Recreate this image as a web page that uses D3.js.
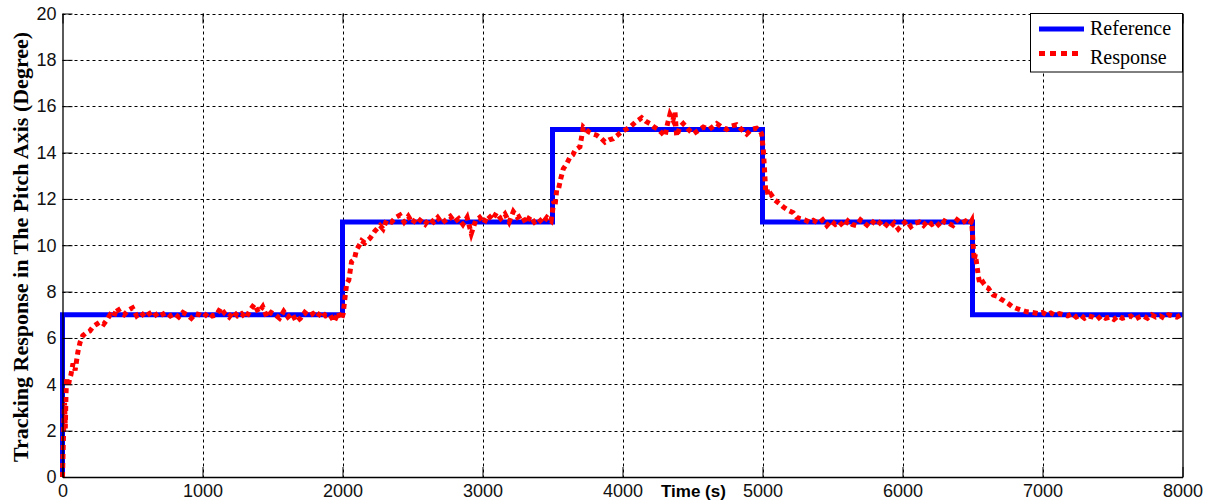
<!DOCTYPE html>
<html lang="en">
<head>
  <meta charset="UTF-8">
  <title>Pitch axis tracking</title>
  <script src="https://cdn.jsdelivr.net/npm/d3@7"></script>
  <style>
    body { margin: 0; background: #fff; }
    .tick text { font-family: Arial, "Liberation Sans", sans-serif; font-size: 18px; fill: #111; }
  </style>
</head>
<body>
  <script>
    // reference step signal
    var refTime  = [0, 0, 2000, 2000, 3500, 3500, 5000, 5000, 6500, 6500, 8000];
    var refValue = [0, 7, 7, 11, 11, 15, 15, 11, 11, 7, 7];

    var resp1Time = [
      0, 5, 10, 15, 20, 25, 30, 40, 50, 60, 75, 90, 110, 125, 145, 165, 195, 220, 245, 270, 295, 320, 340, 365, 390, 410, 440, 470,
      500, 530, 560, 590, 620, 650, 680, 710, 740, 770, 800, 830, 860, 890, 920, 950, 980, 1010, 1040, 1070, 1100, 1130, 1160, 1190,
      1220, 1250, 1280, 1310, 1340, 1370, 1400, 1430, 1460, 1490, 1520, 1550, 1580, 1610, 1640, 1670, 1700, 1730, 1760, 1790, 1820,
      1850, 1880, 1910, 1940, 1970, 1990
    ];
    var resp1Value = [
      0, 1.3, 2.4, 3.2, 2.1, 3.6, 4.3, 3.9, 4.2, 4.4, 4.9, 4.6, 5.4, 5.8, 6.1, 6.2, 6.3, 6.5, 6.6, 6.7, 6.6, 6.8, 7.0, 6.9, 7.3, 7.1, 7.0, 7.2,
      7.3, 6.95, 7.1, 6.9, 7.05, 7.15, 6.9, 7.0, 7.1, 6.95, 7.05, 6.9, 7.1, 7.0, 6.85, 7.05, 7.0, 6.9, 7.1, 6.95, 7.0, 7.3, 7.05, 6.9,
      7.15, 6.95, 7.05, 6.85, 7.2, 7.45, 7.1, 7.35, 6.9, 7.1, 7.0, 6.85, 7.15, 6.9, 7.05, 6.7, 6.85, 7.1, 6.95, 7.05, 6.9,
      7.15, 6.95, 7.0, 6.7, 7.1, 6.8
    ];

    var resp2Time = [
      2005, 2015, 2030, 2045, 2065, 2085, 2100, 2120, 2137, 2160, 2196, 2230, 2268, 2290, 2315, 2350, 2380,
      2410, 2440, 2470, 2500, 2530, 2560, 2590, 2620, 2650, 2680, 2710, 2740, 2770, 2800, 2830, 2860, 2890, 2920, 2950, 2980,
      3010, 3040, 3070, 3100, 3130, 3160, 3190, 3220, 3250, 3280, 3310, 3340, 3370, 3400, 3430, 3460, 3490
    ];
    var resp2Value = [
      7.05, 7.6, 8.35, 8.5, 9.3, 9.4, 9.8, 10.0, 10.2, 10.1, 10.3, 10.6, 10.85, 10.7, 11.08, 11.0, 11.2,
      11.3, 11.0, 11.25, 10.95, 11.2, 11.05, 10.9, 11.15, 11.0, 11.2, 10.95, 11.1, 11.25, 11.0, 11.15, 10.9, 11.2, 10.5, 11.05, 11.2,
      10.95, 11.3, 11.1, 11.4, 11.15, 11.35, 11.0, 11.45, 11.2, 11.3, 10.95, 11.25, 11.0, 11.15, 10.95, 11.2, 11.05
    ];

    var resp3Time = [
      3510, 3518, 3530, 3542, 3560, 3577, 3600, 3625, 3645, 3661, 3696, 3720, 3756, 3790, 3816, 3850, 3875, 3905, 3934, 3965, 3994, 4025,
      4054, 4090, 4115, 4137, 4165, 4196, 4225, 4256, 4280, 4304, 4320, 4339, 4360, 4375, 4387, 4410, 4434, 4470, 4505, 4540, 4577, 4620,
      4673, 4710, 4744, 4780, 4815, 4850, 4887, 4920, 4958, 4985, 4994
    ];
    var resp3Value = [
      11.9, 11.7, 12.4, 12.4, 12.9, 13.3, 13.5, 13.8, 13.9, 14.1, 14.25, 15.1, 14.9, 14.8, 14.75, 14.6, 14.45, 14.55, 14.6, 14.75, 14.9, 15.0,
      15.1, 15.3, 15.4, 15.5, 15.35, 15.25, 15.1, 15.0, 14.85, 14.7, 15.2, 15.65, 15.4, 15.75, 14.7, 15.1, 15.25, 15.0, 14.8, 14.95, 15.1, 15.0,
      15.25, 15.1, 15.0, 15.15, 15.2, 15.0, 14.8, 15.0, 15.05, 14.9, 14.8
    ];

    var resp4Time = [
      5006, 5015, 5022, 5030, 5041, 5060, 5089, 5120, 5149, 5185, 5220, 5245, 5268, 5300, 5335, 5363,
      5400, 5430, 5460, 5490, 5520, 5550, 5580, 5610, 5640, 5670, 5700, 5730, 5760, 5790, 5820, 5850, 5880, 5910, 5940, 5970,
      6000, 6030, 6060, 6090, 6120, 6150, 6180, 6210, 6240, 6270, 6300, 6330, 6360, 6390, 6420, 6450, 6480, 6494
    ];
    var resp4Value = [
      14.1, 13.2, 12.4, 12.5, 12.1, 12.2, 11.95, 11.8, 11.65, 11.5, 11.4, 11.2, 11.15, 11.1, 11.0, 11.08,
      10.95, 11.1, 10.85, 11.05, 10.9, 11.0, 10.8, 11.05, 10.9, 10.85, 11.1, 10.95, 10.8, 11.0, 10.85, 11.05, 10.9, 10.75, 10.95, 10.7,
      10.9, 11.05, 10.8, 10.95, 11.0, 10.85, 11.05, 10.9, 11.0, 10.8, 11.05, 10.95, 10.85, 11.1, 10.95, 11.05, 10.9, 11.05
    ];

    var resp5Time = [
      6506, 6512, 6520, 6530, 6542, 6554, 6575, 6595, 6613, 6630, 6649, 6675, 6697, 6725, 6756, 6785, 6816, 6850, 6887, 6930,
      6970, 7000, 7030, 7060, 7090, 7120, 7150, 7180, 7210, 7240, 7270, 7300, 7330, 7360, 7390, 7420, 7450, 7480, 7510, 7540,
      7570, 7600, 7630, 7660, 7690, 7720, 7750, 7780, 7810, 7840, 7870, 7900, 7930, 7960, 7990, 8000
    ];
    var resp5Value = [
      9.9, 9.35, 9.6, 9.2, 8.65, 8.3, 8.4, 8.2, 8.15, 8.0, 7.85, 7.8, 7.7, 7.6, 7.48, 7.35, 7.27, 7.2, 7.13, 7.1,
      7.05, 7.1, 7.0, 7.08, 6.98, 7.05, 7.0, 6.95, 7.05, 6.9, 7.0, 6.85, 6.95, 6.9, 6.8, 6.95, 6.85, 6.9, 6.8, 6.95,
      6.85, 6.9, 6.95, 6.8, 6.9, 6.95, 6.85, 7.0, 6.9, 6.95, 6.85, 7.0, 6.95, 6.9, 7.0, 6.95
    ];

    var xTicks = [0, 1000, 2000, 3000, 4000, 5000, 6000, 7000, 8000];
    var yTicks = [0, 2, 4, 6, 8, 10, 12, 14, 16, 18, 20];
    var seriesNames = ["Reference", "Response"];

    var respTime = resp1Time.concat(resp2Time, resp3Time, resp4Time, resp5Time);
    var respValue = resp1Value.concat(resp2Value, resp3Value, resp4Value, resp5Value);

    var refData = refTime.map((t, i) => ({t: t, v: refValue[i]}));
    var respData = respTime.map((t, i) => ({t: t, v: respValue[i]}));

    var svg = d3.select("body").append("svg")
      .attr("width", 1208)
      .attr("height", 501);

    // plot box (note: "top" is a reserved window property, so prefixed names)
    var pLeft = 62.5, pRight = 1182.5, pTop = 13.5, pBottom = 477;

    let scaleX = d3.scaleLinear().domain([0, 8000]).range([pLeft, pRight]);
    let scaleY = d3.scaleLinear().domain([0, 20]).range([pBottom, pTop]);

    /* GRID */
    var grid = svg.append("g")
      .attr("stroke", "#000")
      .attr("stroke-width", 1)
      .attr("stroke-dasharray", "3,3");

    grid.selectAll("line.vx")
      .data(xTicks.filter(d => d > 0 && d < 8000))
      .enter().append("line")
      .attr("x1", d => Math.round(scaleX(d)) + 0.5)
      .attr("x2", d => Math.round(scaleX(d)) + 0.5)
      .attr("y1", pTop)
      .attr("y2", pBottom);

    grid.selectAll("line.hy")
      .data(yTicks.filter(d => d > 0))
      .enter().append("line")
      .attr("x1", pLeft)
      .attr("x2", pRight)
      .attr("y1", d => Math.round(scaleY(d)) + 0.5)
      .attr("y2", d => Math.round(scaleY(d)) + 0.5);

    /* LINES */
    let line = d3.line()
      .x(d => scaleX(d.t))
      .y(d => scaleY(d.v));

    svg.append("path")
      .datum(refData)
      .attr("d", line)
      .attr("fill", "none")
      .attr("stroke", "#0000ff")
      .attr("stroke-width", 5)
      .attr("stroke-linejoin", "miter");

    svg.append("path")
      .datum(respData)
      .attr("d", line)
      .attr("fill", "none")
      .attr("stroke", "#ff0000")
      .attr("stroke-width", 5)
      .attr("stroke-dasharray", "5,4");

    /* AXES */
    let axisX = d3.axisBottom(scaleX).tickValues(xTicks).tickFormat(d3.format("d"))
      .tickSize(-10).tickSizeOuter(0).tickPadding(7);
    svg.append("g").attr("transform", `translate(0,${pBottom})`).call(axisX);

    let axisY = d3.axisLeft(scaleY).tickValues(yTicks).tickFormat(d3.format("d"))
      .tickSize(-10).tickSizeOuter(0).tickPadding(6);
    svg.append("g").attr("transform", `translate(${pLeft},0)`).call(axisY);

    let axisR = d3.axisRight(scaleY).tickValues(yTicks).tickFormat("")
      .tickSize(-10).tickSizeOuter(0);
    svg.append("g").attr("transform", `translate(${pRight},0)`).call(axisR);

    let axisT = d3.axisTop(scaleX).tickValues(xTicks).tickFormat("")
      .tickSize(-10).tickSizeOuter(0);
    svg.append("g").attr("transform", `translate(0,${pTop})`).call(axisT)
      .select(".domain").remove();

    svg.selectAll(".domain").attr("stroke", "#000").attr("stroke-width", 1.3);
    svg.selectAll(".tick line").attr("stroke", "#000");

    // axis labels
    svg.append("text")
      .attr("x", 661)
      .attr("y", 497)
      .attr("font-family", "Arial, 'Liberation Sans', sans-serif")
      .attr("font-weight", "bold")
      .attr("font-size", 17)
      .text("Time (s)");

    svg.append("text")
      .attr("transform", "translate(28,247) rotate(-90)")
      .attr("text-anchor", "middle")
      .attr("font-family", "'Times New Roman', 'Liberation Serif', serif")
      .attr("font-weight", "bold")
      .attr("font-size", 22)
      .text("Tracking Response in The Pitch Axis (Degree)");

    /* LEGEND */
    var legend = svg.append("g");
    legend.append("rect")
      .attr("x", 1030.5).attr("y", pTop)
      .attr("width", pRight - 1030.5).attr("height", 58.5)
      .attr("fill", "#fff").attr("stroke", "#000").attr("stroke-width", 1);

    legend.append("line")
      .attr("x1", 1039).attr("x2", 1084).attr("y1", 29).attr("y2", 29)
      .attr("stroke", "#0000ff").attr("stroke-width", 5);
    legend.append("line")
      .attr("x1", 1039).attr("x2", 1080).attr("y1", 53.5).attr("y2", 53.5)
      .attr("stroke", "#ff0000").attr("stroke-width", 5).attr("stroke-dasharray", "6,5");

    legend.selectAll("text.lg")
      .data(seriesNames)
      .enter().append("text")
      .attr("x", 1090)
      .attr("y", (d, i) => 35 + i * 29)
      .attr("font-family", "'Times New Roman', 'Liberation Serif', serif")
      .attr("font-size", 20)
      .text(d => d);
  </script>
</body>
</html>
